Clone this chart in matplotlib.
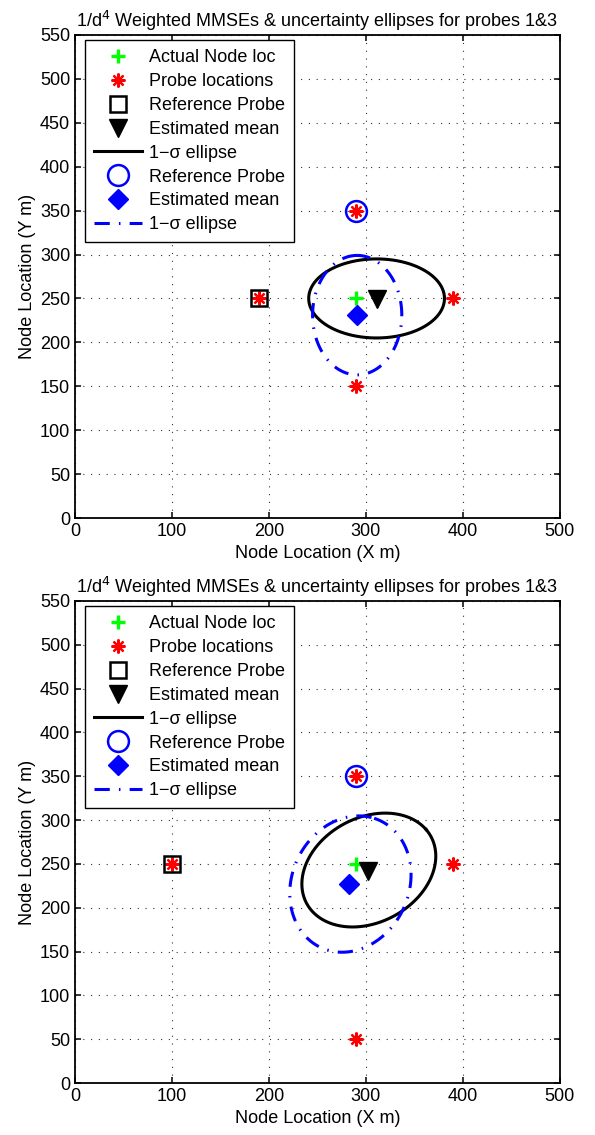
import numpy as np
import matplotlib
matplotlib.use("Agg")
import matplotlib.pyplot as plt

plt.rcParams['font.family'] = ['Liberation Sans', 'DejaVu Sans']

# actual node location (same in both panels)
node_xy = (290, 250)

# panel 1 data
probes_1_x = [190, 290, 390, 290]
probes_1_y = [250, 350, 250, 150]
ref_square_1 = (190, 250)
ref_circle_1 = (290, 350)
mean_black_1 = (311, 249)
mean_blue_1 = (291, 231)
# ellipse: center x, center y, semi-axis a, semi-axis b, angle (deg)
ell_black_1 = (311, 250, 70, 45, 0)
ell_blue_1 = (291, 231, 68, 46, 90)

# panel 2 data
probes_2_x = [100, 290, 390, 290]
probes_2_y = [250, 350, 250, 50]
ref_square_2 = (100, 250)
ref_circle_2 = (290, 350)
mean_black_2 = (302, 242)
mean_blue_2 = (283, 227)
ell_black_2 = (303, 243, 75, 58, 38)
ell_blue_2 = (284, 227, 79, 61, 74)

title = "1/d$^4$ Weighted MMSEs & uncertainty ellipses for probes 1&3"
xticks = [0, 100, 200, 300, 400, 500]
yticks = list(range(0, 551, 50))
FS = 13


def ellipse_pts(e):
    cx, cy, a, b, ang = e
    t = np.linspace(0, 2 * np.pi, 200)
    th = np.deg2rad(ang)
    x = cx + a * np.cos(t) * np.cos(th) - b * np.sin(t) * np.sin(th)
    y = cy + a * np.cos(t) * np.sin(th) + b * np.sin(t) * np.cos(th)
    return x, y


def draw_panel(ax, px, py, sq, circ, mb, mbl, eb, ebl):
    ax.plot(*node_xy, '+', color='#00ff00', ms=10, mew=2.4, label='Actual Node loc')
    ax.plot(px, py, ls='none', marker=(8, 2, 0), color='red', ms=10, mew=1.6,
            label='Probe locations')
    ax.plot(*sq, 's', mfc='none', mec='black', ms=12, mew=1.8, label='Reference Probe')
    ax.plot(*mb, 'v', color='black', ms=13, label='Estimated mean')
    ex, ey = ellipse_pts(eb)
    ax.plot(ex, ey, '-', color='black', lw=2.2, label='1\u2212\u03c3 ellipse')
    ax.plot(*circ, 'o', mfc='none', mec='blue', ms=15, mew=1.8, label='Reference Probe')
    ax.plot(*mbl, 'D', color='blue', ms=10, label='Estimated mean')
    ex, ey = ellipse_pts(ebl)
    ax.plot(ex, ey, '-.', color='blue', lw=2.2, dashes=(5, 3, 0.5, 3),
            label='1\u2212\u03c3 ellipse')

    ax.set_xlim(0, 500)
    ax.set_ylim(0, 550)
    ax.set_xticks(xticks)
    ax.set_yticks(yticks)
    ax.tick_params(direction='in', top=True, right=True, labelsize=FS, length=4,
                   width=1.1)
    for sp in ax.spines.values():
        sp.set_linewidth(1.3)
    ax.grid(True, ls=(0, (1, 6)), color='#333333', lw=0.8)
    ax.set_axisbelow(True)
    ax.set_title(title, fontsize=FS, pad=6)
    ax.set_xlabel('Node Location (X m)', fontsize=FS)
    ax.set_ylabel('Node Location (Y m)', fontsize=FS, labelpad=3)
    leg = ax.legend(loc='upper left', bbox_to_anchor=(0.02, 0.989), borderaxespad=0,
                    fontsize=FS, fancybox=False, framealpha=1, edgecolor='black',
                    handlelength=2.67, handletextpad=0.4, labelspacing=0.38,
                    borderpad=0.5)
    leg.get_frame().set_linewidth(1.0)


fig = plt.figure(figsize=(5.95, 11.35), dpi=100)
ax1 = fig.add_axes([0.126, 0.5436, 0.815, 0.4256])
ax2 = fig.add_axes([0.126, 0.0458, 0.815, 0.4247])

draw_panel(ax1, probes_1_x, probes_1_y, ref_square_1, ref_circle_1,
           mean_black_1, mean_blue_1, ell_black_1, ell_blue_1)
draw_panel(ax2, probes_2_x, probes_2_y, ref_square_2, ref_circle_2,
           mean_black_2, mean_blue_2, ell_black_2, ell_blue_2)

fig.savefig('out.png', dpi=100)
